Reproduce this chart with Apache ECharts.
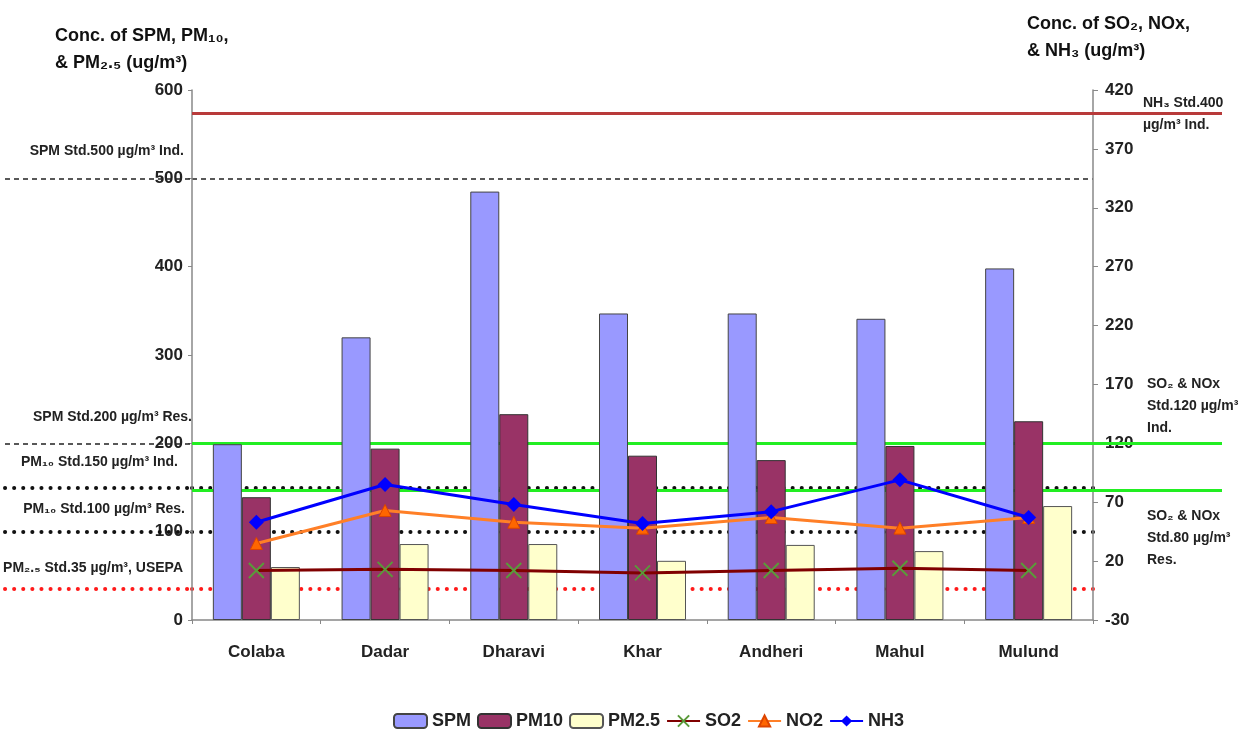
<!DOCTYPE html>
<html><head><meta charset="utf-8">
<script src="https://cdn.jsdelivr.net/npm/echarts@6/dist/echarts.min.js"></script>
<style>html,body{margin:0;padding:0;background:#fff}#c{width:1255px;height:731px}</style>
</head><body><div id="c"></div>
<script>
const categories = ['Colaba','Dadar','Dharavi','Khar','Andheri','Mahul','Mulund'];
const spm  = [199,320,485,347,347,341,398];
const pm10 = [139,194,233,186,181,197,225];
const pm25 = [60,86,86,67,85,78,129];
const so2  = [12,13,12,10,12,14,12];
const no2  = [35,63,53,48,57,48,57];
const nh3  = [53,85,68,52,62,89,57];
const leftAxis  = {min:0, max:600, interval:100};
const rightAxis = {min:-30, max:420, interval:50};
const spmStd = [500, 200];
const pm10Std = [150, 100];
const pm25Std = [35];
const nh3Std = [400];
const so2NoxStd = [120, 80];

const FONT = '"Liberation Sans", Arial, sans-serif';
const chart = echarts.init(document.getElementById('c'), null, {renderer:'canvas'});

const dashed = {color:'#222', type:[5,4], width:1.5};
const dotted = {color:'#111', type:[0.1,9], width:4, cap:'round'};
const redDot = {color:'#ff1a1a', type:[0.1,9], width:4, cap:'round'};
const green = {color:'#22ee22', type:'solid', width:3};
const red = {color:'#b83a3a', type:'solid', width:3};

function ml(vals, style){ return vals.map(v => ({yAxis:v, lineStyle:style})); }
function carrier(xi, yi, data, z){
  return {type:'line', xAxisIndex:xi, yAxisIndex:yi, data:[], silent:true, z:z,
    markLine:{silent:true, z:z, symbol:['none','none'], label:{show:false}, data:data}};
}

const axisLbl = {fontFamily:FONT, fontWeight:'bold', fontSize:17, color:'#222'};
const lblTxt = {fontFamily:FONT, fontWeight:'bold', fontSize:14, fill:'#222'};

chart.setOption({
  animation:false,
  backgroundColor:'#fff',
  grid:[
    {left:192, right:162, top:90, bottom:111},
    {left:5, width:187, top:90, bottom:111},
    {left:1093, width:129, top:90, bottom:111}
  ],
  xAxis:[
    {type:'category', gridIndex:0, data:categories,
     axisLine:{lineStyle:{color:'#888', width:1.5}},
     axisTick:{show:true, length:4, lineStyle:{color:'#888'}},
     axisLabel:Object.assign({margin:24}, axisLbl)},
    {type:'value', gridIndex:1, min:0, max:1, show:false},
    {type:'value', gridIndex:2, min:0, max:1, show:false}
  ],
  yAxis:[
    Object.assign({type:'value', gridIndex:0, position:'left', splitLine:{show:false},
     axisLine:{show:true, lineStyle:{color:'#888', width:1.5}},
     axisTick:{show:true, length:4, lineStyle:{color:'#888'}},
     axisLabel:Object.assign({margin:9}, axisLbl)}, leftAxis),
    Object.assign({type:'value', gridIndex:0, position:'right', splitLine:{show:false},
     axisLine:{show:true, lineStyle:{color:'#888', width:1.5}},
     axisTick:{show:true, length:5, lineStyle:{color:'#888'}},
     axisLabel:Object.assign({margin:12}, axisLbl)}, rightAxis),
    Object.assign({type:'value', gridIndex:1, show:false}, leftAxis),
    Object.assign({type:'value', gridIndex:2, show:false}, rightAxis)
  ],
  legend:{
    left:388, top:707, itemWidth:33, itemHeight:14, itemGap:6,
    textStyle:{fontFamily:FONT, fontWeight:'bold', fontSize:18, color:'#222'},
    data:['SPM','PM10','PM2.5','SO2','NO2','NH3']
  },
  series:[
    carrier(1, 2, ml(spmStd, dashed).concat(ml(pm10Std, dotted), ml(pm25Std, redDot)), 1),
    carrier(0, 0, ml(spmStd, dashed).concat(ml(pm10Std, dotted), ml(pm25Std, redDot)), 0),
    carrier(0, 1, ml(so2NoxStd, green).concat(ml(nh3Std, red)), 1),
    carrier(2, 3, ml(so2NoxStd, green).concat(ml(nh3Std, red)), 1),
    {name:'SPM', type:'bar', data:spm, barWidth:29, barGap:'0%', z:2,
     itemStyle:{color:'#9999ff', borderColor:'#444', borderWidth:1}},
    {name:'PM10', type:'bar', data:pm10, barWidth:29, barGap:'0%', z:2,
     itemStyle:{color:'#993366', borderColor:'#333', borderWidth:1}},
    {name:'PM2.5', type:'bar', data:pm25, barWidth:29, barGap:'0%', z:2,
     itemStyle:{color:'#ffffcc', borderColor:'#555', borderWidth:1}},
    {name:'SO2', type:'line', yAxisIndex:1, data:so2, z:5,
     symbol:'path://M0,0L10,10M10,0L0,10', symbolSize:15,
     lineStyle:{color:'#800000', width:3},
     itemStyle:{color:'#5a9a3a', borderColor:'#5a9a3a', borderWidth:2}},
    {name:'NO2', type:'line', yAxisIndex:1, data:no2, z:5,
     symbol:'triangle', symbolSize:12,
     lineStyle:{color:'#ff7f27', width:3},
     itemStyle:{color:'#ff6600', borderColor:'#dd4400', borderWidth:1}},
    {name:'NH3', type:'line', yAxisIndex:1, data:nh3, z:6,
     symbol:'diamond', symbolSize:15,
     lineStyle:{color:'#0000ff', width:3},
     itemStyle:{color:'#0000ff'}}
  ],
  graphic:[
    {type:'text', left:55, top:23, style:{text:'Conc. of SPM, PM₁₀,\n& PM₂.₅ (ug/m³)', font:'bold 18px '+FONT, fill:'#111', lineHeight:27}},
    {type:'text', left:1027, top:11, style:{text:'Conc. of SO₂, NOx,\n& NH₃ (ug/m³)', font:'bold 18px '+FONT, fill:'#111', lineHeight:27}},
    {type:'text', right:1255-184, top:144, style:Object.assign({text:'SPM Std.500 µg/m³ Ind.'}, lblTxt)},
    {type:'text', right:1255-192, top:410, style:Object.assign({text:'SPM Std.200 µg/m³ Res.'}, lblTxt)},
    {type:'text', right:1255-178, top:455, style:Object.assign({text:'PM₁₀ Std.150 µg/m³ Ind.'}, lblTxt)},
    {type:'text', right:1255-185, top:502, style:Object.assign({text:'PM₁₀ Std.100 µg/m³ Res.'}, lblTxt)},
    {type:'text', right:1255-183, top:561, style:Object.assign({text:'PM₂.₅ Std.35 µg/m³, USEPA'}, lblTxt)},
    {type:'text', left:1143, top:92, style:Object.assign({text:'NH₃ Std.400\nµg/m³ Ind.', lineHeight:22}, lblTxt)},
    {type:'text', left:1147, top:373, style:Object.assign({text:'SO₂ & NOx\nStd.120 µg/m³\nInd.', lineHeight:22}, lblTxt)},
    {type:'text', left:1147, top:505, style:Object.assign({text:'SO₂ & NOx\nStd.80 µg/m³\nRes.', lineHeight:22}, lblTxt)}
  ]
});
</script></body></html>
